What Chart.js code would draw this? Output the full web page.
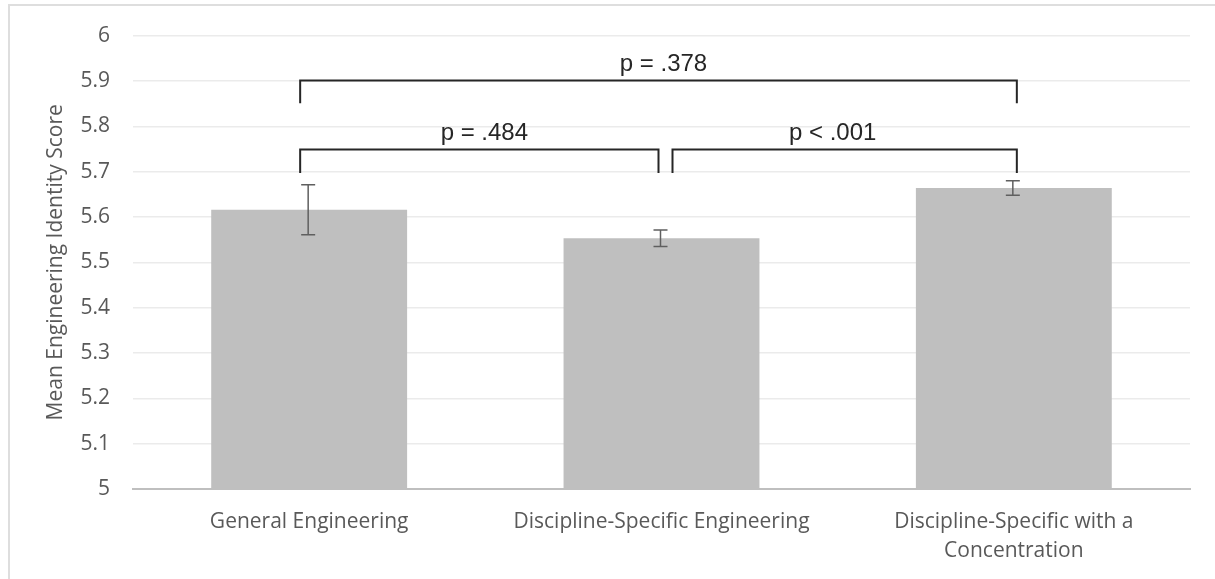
<!DOCTYPE html>
<html>
<head>
<meta charset="utf-8">
<script src="https://cdn.jsdelivr.net/npm/chart.js@4.4.1/dist/chart.umd.min.js"></script>
<style>
  html, body { margin: 0; padding: 0; background: #fff; }
  #wrap { position: relative; width: 1215px; height: 579px; overflow: hidden; }
  #frame { position: absolute; left: 8px; top: 4px; width: 1220px; height: 600px; border: 2px solid #dedede; box-sizing: border-box; }
  canvas { position: absolute; left: 0; top: 0; }
</style>
</head>
<body>
<div id="wrap">
  <div id="frame"></div>
  <canvas id="chart" width="1215" height="579"></canvas>
</div>
<script>
// Chart data
const categories = ['General Engineering', 'Discipline-Specific Engineering', ['Discipline-Specific with a', 'Concentration']];
const meanScores = [5.616, 5.553, 5.664];
const errorMargins = [0.055, 0.018, 0.016];

// significance brackets: category index pairs, heights in score units
const bracketFrom = [0, 0, 1];
const bracketTo = [2, 1, 2];
const bracketTop = [5.903, 5.750, 5.750];
const bracketBottom = [5.851, 5.697, 5.697];
const bracketLabels = ['p = .378', 'p = .484', 'p < .001'];

// draws the error bars on top of the bars
const errorBarPlugin = {
    id: 'errorBars',
    afterDatasetsDraw(chart) {
        const ctx = chart.ctx;
        const x = chart.scales.x, y = chart.scales.y;
        ctx.save();
        ctx.strokeStyle = '#5f5f5f';
        ctx.lineWidth = 1.5;
        meanScores.forEach(function(v, i) {
            const px = x.getPixelForValue(i) - 1;
            const top = y.getPixelForValue(v + errorMargins[i]);
            const bot = y.getPixelForValue(v - errorMargins[i]);
            ctx.beginPath();
            ctx.moveTo(px, top); ctx.lineTo(px, bot);
            ctx.moveTo(px - 7, top); ctx.lineTo(px + 7, top);
            ctx.moveTo(px - 7, bot); ctx.lineTo(px + 7, bot);
            ctx.stroke();
        });
        ctx.restore();
    }
};

// draws the comparison brackets with p values
const bracketPlugin = {
    id: 'brackets',
    afterDraw(chart) {
        const ctx = chart.ctx;
        const x = chart.scales.x, y = chart.scales.y;
        ctx.save();
        ctx.strokeStyle = '#262626';
        ctx.fillStyle = '#262626';
        ctx.lineWidth = 2;
        ctx.font = '24px "Liberation Sans", Arial, sans-serif';
        ctx.textAlign = 'center';
        ctx.textBaseline = 'alphabetic';
        bracketLabels.forEach(function(label, i) {
            // nudge ends so adjacent brackets don't touch
            const shiftL = bracketFrom[i] === 0 ? -9 : 11;
            const shiftR = bracketTo[i] === 1 ? -3 : 3;
            const x1 = x.getPixelForValue(bracketFrom[i]) + shiftL;
            const x2 = x.getPixelForValue(bracketTo[i]) + shiftR;
            const yt = Math.round(y.getPixelForValue(bracketTop[i])) + 0.5;
            const yb = y.getPixelForValue(bracketBottom[i]);
            ctx.beginPath();
            ctx.moveTo(x1, yb); ctx.lineTo(x1, yt); ctx.lineTo(x2, yt); ctx.lineTo(x2, yb);
            ctx.stroke();
            const shiftText = i === 2 ? -12 : 5;
            ctx.fillText(label, (x1 + x2) / 2 + shiftText, yt - 10);
        });
        ctx.restore();
    }
};

const fontFamily = '"Open Sans", "Noto Sans", sans-serif';

new Chart(document.getElementById('chart').getContext('2d'), {
    type: 'bar',
    data: {
        labels: categories,
        datasets: [{
            data: meanScores,
            backgroundColor: '#bfbfbf',
            borderWidth: 0,
            categoryPercentage: 1,
            barPercentage: 0.556
        }]
    },
    options: {
        responsive: false,
        animation: false,
        layout: { padding: { top: 31, right: 25, left: 0, bottom: 0 } },
        plugins: {
            legend: { display: false },
            tooltip: { enabled: false }
        },
        scales: {
            x: {
                grid: { display: false, drawTicks: false },
                border: { color: '#bfbfbf', width: 2 },
                ticks: {
                    color: '#595959',
                    font: { family: fontFamily, size: 21, lineHeight: '29px' },
                    padding: 19,
                    maxRotation: 0,
                    autoSkip: false
                },
                afterFit(scale) { scale.height = 90; }
            },
            y: {
                min: 5,
                max: 6,
                ticks: {
                    stepSize: 0.1,
                    color: '#595959',
                    font: { family: fontFamily, size: 21 },
                    padding: 23,
                    callback: function(v) { return Math.round(v * 10) / 10; }
                },
                grid: {
                    color: function(c) { return c.tick && c.tick.value === 5 ? 'rgba(0,0,0,0)' : '#ebebeb'; },
                    lineWidth: 1.5,
                    drawTicks: false
                },
                border: { display: false },
                title: {
                    display: true,
                    text: 'Mean Engineering Identity Score',
                    color: '#595959',
                    font: { family: fontFamily, size: 21 },
                    padding: { top: 43, bottom: 0 }
                },
                afterFit(scale) { scale.width = 133; }
            }
        }
    },
    plugins: [errorBarPlugin, bracketPlugin]
});
</script>
</body>
</html>
